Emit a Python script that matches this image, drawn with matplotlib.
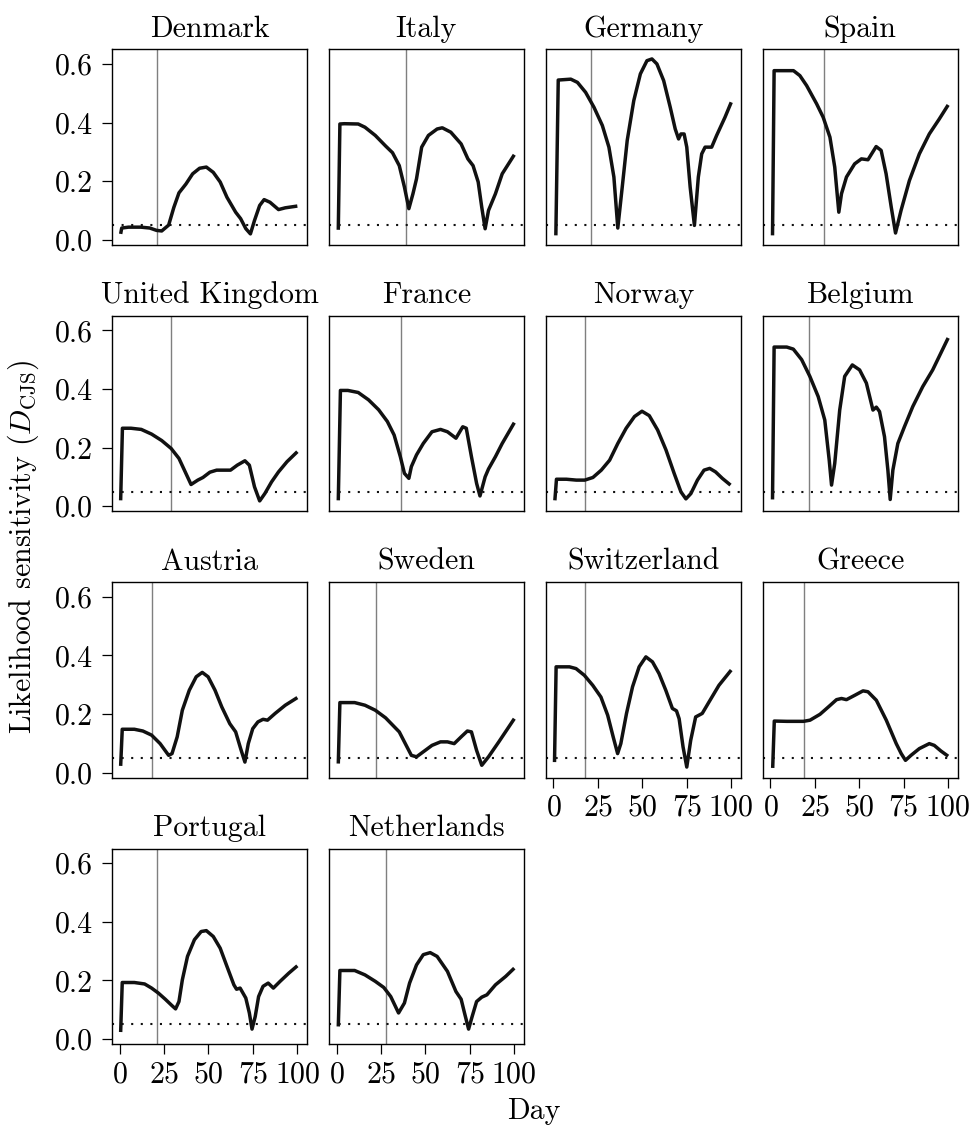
import matplotlib
matplotlib.use("Agg")
from matplotlib import pyplot as plt

# Computer Modern look like the original (R + tikz style)
plt.rcParams['font.family'] = 'cmr10'
plt.rcParams['mathtext.fontset'] = 'cm'
plt.rcParams['axes.formatter.use_mathtext'] = True

# data: day and likelihood sensitivity per country
countries = ["Denmark", "Italy", "Germany", "Spain",
             "United Kingdom", "France", "Norway", "Belgium",
             "Austria", "Sweden", "Switzerland", "Greece",
             "Portugal", "Netherlands"]
# day of the intervention (grey vertical line)
intervention = [21, 39, 21, 30, 29, 36, 18, 22, 18, 22, 18, 19, 21, 28]
threshold = 0.05

dk_day = [0.6, 1.2, 5, 12, 17, 20.8, 23.7, 27.6, 30.5, 33.4, 37.3, 41.1, 45, 48.8, 52.7, 56.6,
          60.4, 65.3, 68.1, 71, 73.6, 75.9, 78.8, 81.3, 84.6, 89.4, 93.2, 100]
dk_val = [0.02, 0.04, 0.043, 0.043, 0.04, 0.032, 0.03, 0.05, 0.11, 0.16, 0.19, 0.225, 0.244, 0.248,
          0.23, 0.197, 0.145, 0.094, 0.072, 0.038, 0.02, 0.066, 0.117, 0.137, 0.128, 0.103, 0.109, 0.115]

it_day = [1.0, 1.9, 4.4, 12.2, 16, 21.8, 27.6, 31.5, 35.3, 38.2, 40.7, 43, 45, 47.9, 51.7, 56.6,
          59.5, 64.3, 70.1, 73.9, 76.8, 79.7, 81.7, 83.6, 85.5, 89.4, 93.2, 100]
it_val = [0.034, 0.395, 0.396, 0.395, 0.384, 0.356, 0.32, 0.297, 0.253, 0.18, 0.106, 0.157, 0.208,
          0.316, 0.356, 0.378, 0.382, 0.367, 0.327, 0.276, 0.253, 0.197, 0.111, 0.0375, 0.1, 0.157,
          0.225, 0.29]

de_day = [1.35, 2.7, 9.75, 13.5, 18.1, 22.8, 27.5, 31.2, 34.0, 36.2, 38.7, 41.5, 45.2, 48.9, 52.6,
          55.4, 58.2, 62.0, 65.7, 68.5, 70.4, 71.7, 73.5, 75.0, 76.9, 79.3, 81.5, 83.4, 85.3, 89.0,
          91.8, 96.5, 100]
de_val = [0.015, 0.545, 0.548, 0.537, 0.503, 0.452, 0.39, 0.316, 0.214, 0.04, 0.18, 0.339, 0.475,
          0.566, 0.611, 0.617, 0.6, 0.543, 0.452, 0.378, 0.344, 0.361, 0.361, 0.316, 0.18, 0.049,
          0.214, 0.293, 0.316, 0.316, 0.356, 0.418, 0.469]

es_day = [1.2, 2.1, 13.0, 16.6, 20.4, 26.0, 29.7, 33.5, 36.2, 38.5, 40.0, 42.8, 47.4, 51.2, 54.9,
          59.5, 62.3, 65.1, 68.0, 70.4, 73.5, 78.2, 83.8, 89.4, 95.0, 100]
es_val = [0.015, 0.577, 0.577, 0.56, 0.526, 0.464, 0.418, 0.35, 0.248, 0.094, 0.157, 0.214, 0.259,
          0.276, 0.273, 0.318, 0.305, 0.225, 0.111, 0.023, 0.1, 0.202, 0.293, 0.361, 0.412, 0.46]

uk_day = [0.6, 1.6, 6.4, 12.2, 18.0, 23.7, 29.0, 33.4, 37.3, 40.2, 44.0, 46.9, 50.8, 54.6, 58.5,
          62.4, 66.2, 70.5, 73.0, 75.9, 78.8, 81.7, 85.5, 89.4, 94.2, 100]
uk_val = [0.02, 0.266, 0.266, 0.262, 0.246, 0.224, 0.197, 0.163, 0.112, 0.074, 0.089, 0.098, 0.116,
          0.123, 0.123, 0.123, 0.14, 0.155, 0.14, 0.066, 0.018, 0.043, 0.083, 0.117, 0.152, 0.186]

fr_day = [1.0, 2.2, 6.4, 12.2, 18.0, 23.7, 28.6, 32.4, 35.9, 38.2, 40.7, 42.1, 45.0, 48.8, 53.7,
          58.5, 62.4, 67.2, 71.0, 73.0, 75.9, 78.8, 80.7, 83.6, 85.5, 89.4, 93.2, 100]
fr_val = [0.02, 0.395, 0.395, 0.388, 0.363, 0.329, 0.289, 0.243, 0.169, 0.112, 0.095, 0.135, 0.175,
          0.214, 0.254, 0.262, 0.254, 0.232, 0.271, 0.266, 0.169, 0.078, 0.035, 0.1, 0.127, 0.169,
          0.214, 0.285]

no_day = [0.8, 1.7, 7.3, 12.9, 17.6, 22.2, 26.9, 31.6, 36.2, 40.9, 45.6, 49.8, 53.9, 58.6, 63.3,
          67.9, 71.7, 74.5, 77.3, 81.0, 84.7, 87.9, 91.2, 95.0, 99.6]
no_val = [0.02, 0.092, 0.092, 0.089, 0.089, 0.098, 0.123, 0.157, 0.214, 0.266, 0.306, 0.324, 0.309,
          0.26, 0.192, 0.112, 0.049, 0.025, 0.043, 0.089, 0.123, 0.129, 0.117, 0.095, 0.072]

be_day = [1.2, 2.1, 9.2, 12.9, 17.6, 22.2, 26.9, 30.6, 33.1, 34.4, 36.2, 39.0, 41.8, 46.1, 50.2,
          54.0, 57.7, 59.6, 61.4, 64.2, 66.1, 67.4, 68.9, 71.7, 75.4, 80.1, 85.7, 91.3, 100]
be_val = [0.023, 0.543, 0.543, 0.536, 0.5, 0.443, 0.374, 0.294, 0.157, 0.072, 0.146, 0.328, 0.443,
          0.482, 0.465, 0.42, 0.328, 0.338, 0.323, 0.237, 0.123, 0.023, 0.123, 0.214, 0.271, 0.34,
          0.408, 0.465, 0.574]

at_day = [0.6, 1.5, 8.3, 13.1, 18.0, 22.8, 27.6, 29.5, 32.4, 35.3, 39.2, 43.1, 46.5, 49.8, 53.7,
          57.5, 62.0, 65.3, 68.1, 70.5, 72.4, 74.9, 77.8, 80.7, 83.2, 87.5, 93.2, 100]
at_val = [0.023, 0.148, 0.148, 0.142, 0.128, 0.099, 0.059, 0.065, 0.122, 0.213, 0.281, 0.327, 0.342,
          0.327, 0.281, 0.224, 0.167, 0.139, 0.082, 0.036, 0.099, 0.15, 0.173, 0.182, 0.179, 0.202,
          0.23, 0.256]

se_day = [1.0, 1.9, 10.2, 16.0, 21.8, 27.6, 35.3, 39.2, 42.1, 45.0, 48.8, 53.7, 58.5, 62.4, 66.2,
          70.1, 73.6, 75.9, 78.8, 81.7, 85.5, 91.3, 100]
se_val = [0.031, 0.239, 0.239, 0.23, 0.213, 0.187, 0.139, 0.093, 0.059, 0.054, 0.071, 0.093, 0.105,
          0.105, 0.099, 0.122, 0.142, 0.139, 0.076, 0.025, 0.054, 0.105, 0.184]

ch_day = [0.6, 1.5, 9.0, 12.7, 17.4, 22.1, 26.7, 30.5, 33.6, 36.1, 37.9, 41.1, 44.5, 48.2, 52.0,
          55.7, 59.4, 63.2, 66.9, 69.2, 70.7, 72.9, 75.0, 77.2, 80.0, 83.7, 87.5, 93.1, 100]
ch_val = [0.036, 0.361, 0.361, 0.355, 0.332, 0.298, 0.258, 0.196, 0.122, 0.065, 0.099, 0.202, 0.293,
          0.361, 0.395, 0.378, 0.338, 0.281, 0.219, 0.211, 0.184, 0.088, 0.019, 0.11, 0.19, 0.202,
          0.241, 0.298, 0.35]

gr_day = [1.3, 2.2, 9.3, 18.6, 22.3, 27.9, 32.6, 37.2, 40.0, 42.8, 47.5, 52.1, 54.9, 59.6, 65.2,
          70.8, 73.6, 76.0, 79.1, 83.8, 89.4, 92.2, 95.9, 100]
gr_val = [0.016, 0.176, 0.175, 0.175, 0.179, 0.199, 0.224, 0.249, 0.253, 0.249, 0.264, 0.279, 0.276,
          0.247, 0.179, 0.099, 0.065, 0.042, 0.059, 0.082, 0.099, 0.093, 0.074, 0.056]

pt_day = [0.6, 1.5, 8.3, 14.1, 18.0, 21.8, 25.7, 29.5, 31.5, 33.4, 35.3, 38.2, 42.1, 45.9, 48.8,
          52.7, 56.6, 60.4, 64.3, 65.8, 67.8, 71.0, 73.0, 74.5, 76.3, 78.2, 80.7, 83.6, 86.5, 90.3,
          95.2, 100]
pt_val = [0.024, 0.193, 0.193, 0.188, 0.174, 0.157, 0.136, 0.114, 0.103, 0.128, 0.202, 0.282, 0.339,
          0.367, 0.37, 0.35, 0.31, 0.248, 0.185, 0.17, 0.174, 0.14, 0.089, 0.034, 0.077, 0.145, 0.18,
          0.191, 0.174, 0.197, 0.225, 0.25]

nl_day = [1.0, 1.9, 10.2, 16.0, 21.8, 26.6, 30.5, 34.9, 38.2, 41.1, 45.0, 48.8, 52.7, 56.6, 62.4,
          67.2, 70.1, 72.0, 74.3, 76.3, 78.8, 81.7, 84.6, 89.4, 95.2, 100]
nl_val = [0.043, 0.234, 0.234, 0.219, 0.197, 0.176, 0.145, 0.089, 0.123, 0.191, 0.253, 0.288, 0.295,
          0.282, 0.231, 0.162, 0.136, 0.089, 0.034, 0.077, 0.128, 0.143, 0.151, 0.185, 0.214, 0.242]

days = [dk_day, it_day, de_day, es_day, uk_day, fr_day, no_day, be_day,
        at_day, se_day, ch_day, gr_day, pt_day, nl_day]
values = [dk_val, it_val, de_val, es_val, uk_val, fr_val, no_val, be_val,
          at_val, se_val, ch_val, gr_val, pt_val, nl_val]

fig, axes = plt.subplots(4, 4, figsize=(9.76, 11.3), dpi=100)
plt.subplots_adjust(left=0.1148, right=0.9813, top=0.9564, bottom=0.0758,
                    wspace=0.113, hspace=0.361)

for i, ax in enumerate(axes.flat):
    if i >= len(countries):
        ax.remove()
        continue
    row, col = divmod(i, 4)
    ax.axvline(intervention[i], color='#7f7f7f', lw=1.0)
    ax.axhline(threshold, color='#111111', lw=1.5, linestyle=(0, (1.0, 3.6)))
    ax.plot(days[i], values[i], color='#111111', lw=2.5,
            solid_joinstyle='round', solid_capstyle='butt')
    ax.set_title(countries[i], fontsize=21.5, pad=9)
    ax.set_xlim(-4.24, 105.4)
    ax.set_ylim(-0.018, 0.65)
    ax.set_xticks([0, 25, 50, 75, 100])
    ax.set_yticks([0.0, 0.2, 0.4, 0.6])
    ax.set_yticklabels(['0.0', '0.2', '0.4', '0.6'])
    for s in ax.spines.values():
        s.set_linewidth(1.0)
    ax.tick_params(direction='out', length=7, width=0.9, labelsize=21.5, pad=5)
    # x ticks only on the lowest panel of each column
    if not (row == 3 or (row == 2 and col >= 2)):
        ax.tick_params(bottom=False, labelbottom=False)
    # y ticks only on the first column
    if col != 0:
        ax.tick_params(left=False, labelleft=False)
    else:
        ax.tick_params(axis='y', pad=7)

fig.text(0.5467, 0.004, 'Day', ha='center', va='bottom', fontsize=21.5)
fig.text(0.024, 0.516, r'Likelihood sensitivity ($D_{\mathrm{CJS}}$)', ha='center', va='center',
         rotation=90, fontsize=21.5)

plt.savefig('out.png', dpi=100)
